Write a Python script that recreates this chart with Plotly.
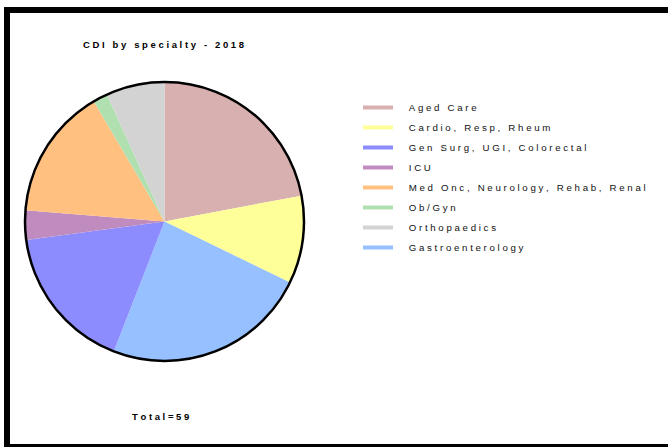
import plotly.graph_objects as go

# CDI cases by specialty, 2018 (slice order, clockwise from 12 o'clock)
pie_labels = [
    "Aged Care",
    "Cardio, Resp, Rheum",
    "Gastroenterology",
    "Gen Surg, UGI, Colorectal",
    "ICU",
    "Med Onc, Neurology, Rehab, Renal",
    "Ob/Gyn",
    "Orthopaedics",
]
pie_values = [13, 6, 14, 10, 2, 9, 1, 4]

# legend listing order
legend_labels = [
    "Aged Care",
    "Cardio, Resp, Rheum",
    "Gen Surg, UGI, Colorectal",
    "ICU",
    "Med Onc, Neurology, Rehab, Renal",
    "Ob/Gyn",
    "Orthopaedics",
    "Gastroenterology",
]

colors = {
    "Aged Care": "#D8B0B0",
    "Cardio, Resp, Rheum": "#FFFF99",
    "Gen Surg, UGI, Colorectal": "#8C8CFF",
    "ICU": "#C08CC0",
    "Med Onc, Neurology, Rehab, Renal": "#FFC080",
    "Ob/Gyn": "#B0E0B0",
    "Orthopaedics": "#D3D3D3",
    "Gastroenterology": "#96C0FF",
}

title_text = "CDI by specialty - 2018"

W, H = 668, 447
NB = "\u00a0"


def spaced(s):
    """Widen the tracking of a label by padding each character."""
    return NB.join(s)


def px(x):
    return x / W


def py(y):
    return 1 - y / H


fig = go.Figure()

# pie occupies a square box; its outline is drawn as a separate circle
cx0, cx1, cy0, cy1 = 25, 304, 82, 361
fig.add_trace(go.Pie(
    labels=pie_labels,
    values=pie_values,
    sort=False,
    direction="clockwise",
    rotation=0,
    textinfo="none",
    hoverinfo="label+value+percent",
    marker=dict(colors=[colors[l] for l in pie_labels], line=dict(width=0)),
    domain=dict(x=[px(cx0), px(cx1)], y=[py(cy1), py(cy0)]),
    showlegend=False,
))

# legend entries as short coloured bars, text set off a little from the bar
for lab in legend_labels:
    fig.add_trace(go.Scatter(
        x=[None], y=[None], mode="lines",
        line=dict(color=colors[lab], width=4),
        name=NB * 4 + spaced(lab), legendgroup=lab, showlegend=True,
        hoverinfo="skip",
    ))

fig.update_layout(
    width=W, height=H,
    margin=dict(l=0, r=0, t=0, b=0),
    paper_bgcolor="white",
    plot_bgcolor="white",
    xaxis=dict(visible=False),
    yaxis=dict(visible=False),
    font=dict(family="Liberation Sans, Arial, sans-serif", color="#000"),
    legend=dict(
        x=px(358), y=py(93), xanchor="left", yanchor="top",
        font=dict(size=9.7, color="#111"),
        tracegroupgap=1,
        traceorder="grouped",
        bgcolor="rgba(0,0,0,0)",
    ),
    annotations=[
        dict(text=spaced(title_text), x=px(81), y=py(45), xref="paper", yref="paper",
             xanchor="left", yanchor="middle", showarrow=False,
             font=dict(size=9.5, weight=700, color="#000")),
        dict(text=spaced("Total=" + str(sum(pie_values))), x=px(130), y=py(416),
             xref="paper", yref="paper", xanchor="left", yanchor="middle",
             showarrow=False, font=dict(size=9.5, weight=700, color="#000")),
    ],
    shapes=[
        dict(type="circle", xref="paper", yref="paper",
             x0=px(cx0), x1=px(cx1), y0=py(cy1), y1=py(cy0),
             line=dict(color="black", width=2.5)),
        dict(type="rect", xref="paper", yref="paper",
             x0=px(7), x1=px(700), y0=py(447), y1=py(10),
             line=dict(color="black", width=6)),
    ],
)

fig.write_html("out.html")
